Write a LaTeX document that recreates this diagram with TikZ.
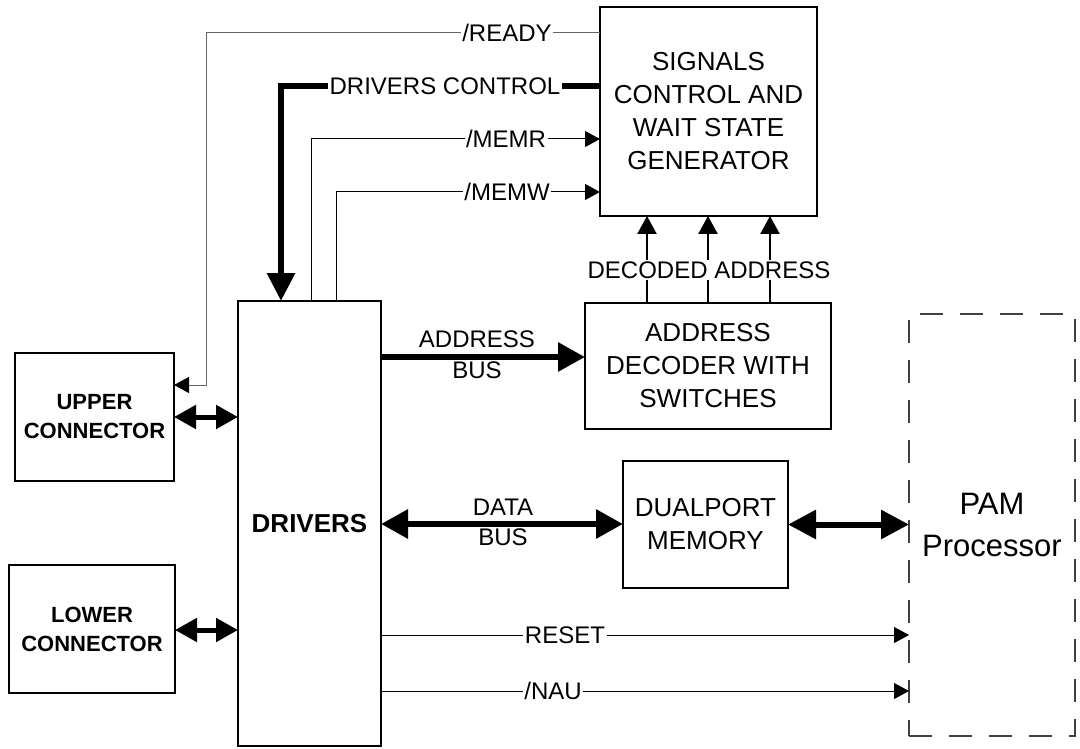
\documentclass[tikz,border=0pt]{standalone}
\usepackage{fontspec}
\setmainfont{Liberation Sans}
\usetikzlibrary{arrows.meta}
\begin{document}
\begin{tikzpicture}[x=1pt,y=-1pt,
  box/.style={draw,line width=2.5pt,align=center,inner sep=0pt,outer sep=0pt},
  btxt/.style={font=\fontsize{26}{33}\selectfont},
  ctxt/.style={font=\bfseries\fontsize{22}{29}\selectfont},
  lbl/.style={fill=white,inner sep=1.5pt,font=\fontsize{24}{28}\selectfont},
  plbl/.style={inner sep=0pt,font=\fontsize{24}{28}\selectfont},
  thinarrow/.style={line width=1pt,-{Triangle[length=15pt,width=16pt,black]}},
  bus/.style={line width=6pt},
  decline/.style={line width=2.5pt,-{Triangle[length=18pt,width=19pt]}},
  conn/.style={line width=5pt,{Triangle[length=22pt,width=23pt]}-{Triangle[length=22pt,width=23pt]}}
]
\useasboundingbox (0,0) rectangle (1080,749);
\fill[white] (0,0) rectangle (1080,749);

% boxes
\node[box,btxt,minimum width=217pt,minimum height=209pt] (sig) at (708.5,111.5) {SIGNALS\\CONTROL AND\\WAIT STATE\\GENERATOR};
\node[box,line width=2pt,minimum width=143pt,minimum height=445pt,font=\bfseries\fontsize{26}{30}\selectfont] (drv) at (309.5,523.5) {DRIVERS};
\node[box,btxt,minimum width=246pt,minimum height=126pt] (dec) at (708,366) {ADDRESS\\DECODER WITH\\SWITCHES};
\node[box,btxt,minimum width=165pt,minimum height=127pt] (mem) at (705.5,524.5) {DUALPORT\\MEMORY};
\node[box,ctxt,minimum width=159pt,minimum height=128pt] (up) at (94.5,417) {UPPER\\CONNECTOR};
\node[box,ctxt,minimum width=166pt,minimum height=128pt] (lo) at (92,629) {LOWER\\CONNECTOR};
\node[draw=black!75,line width=1.2pt,dash pattern=on 23pt off 17pt,align=center,inner sep=0pt,outer sep=0pt,
      minimum width=166pt,minimum height=422pt,font=\fontsize{31}{42}\selectfont] (pam) at (992,525) {PAM\\Processor};

% /READY
\coordinate (ry1) at (206,33);
\coordinate (ry2) at (206,385);
\draw[thinarrow,draw=black!60] (ry1 -| sig.west) -- (ry1) -- (ry2) -- (ry2 -| up.east);
\node[lbl] (lready) at (507,33) {/READY};

% DRIVERS CONTROL
\coordinate (dc) at (281,86);
\draw[bus,-{Triangle[length=28pt,width=27pt]}] (dc -| sig.west) -- (dc) -- (dc |- drv.north);
\node[lbl] (ldc) at (445,86) {DRIVERS CONTROL};

% /MEMR, /MEMW
\coordinate (mr) at (311,139);
\draw[thinarrow] (mr |- drv.north) -- (mr) -- (mr -| sig.west);
\node[lbl] (lmemr) at (506,139) {/MEMR};
\coordinate (mw) at (336,192);
\draw[thinarrow] (mw |- drv.north) -- (mw) -- (mw -| sig.west);
\node[lbl] (lmemw) at (507,192) {/MEMW};

% decoded address
\coordinate (da1) at (647,270);
\coordinate (da2) at (708,270);
\coordinate (da3) at (770,270);
\draw[decline] (da1 |- dec.north) -- (da1 |- sig.south);
\draw[decline] (da2 |- dec.north) -- (da2 |- sig.south);
\draw[decline] (da3 |- dec.north) -- (da3 |- sig.south);
\node[fill=white,inner sep=1.5pt,font=\fontsize{24}{28}\selectfont] (lda) at (709,270) {DECODED ADDRESS};

% address bus
\coordinate (ab) at (480,357);
\draw[bus,-{Triangle[length=27pt,width=28pt]}] (ab -| drv.east) -- (ab -| dec.west);
\node[plbl] (laddr) at (477,339) {ADDRESS};
\node[plbl] (labus) at (477,370) {BUS};

% data bus
\coordinate (db) at (500,524);
\draw[bus,{Triangle[length=27pt,width=28pt]}-{Triangle[length=27pt,width=28pt]}] (db -| drv.east) -- (db -| mem.west);
\node[plbl] (ldata) at (503,507) {DATA};
\node[plbl] (ldbus) at (503,537) {BUS};

% memory - PAM
\draw[bus,{Triangle[length=28pt,width=28pt]}-{Triangle[length=28pt,width=28pt]}] (mem.east) -- (mem.east -| pam.west);

% connectors
\coordinate (c1) at (200,417);
\coordinate (c2) at (200,630);
\draw[conn] (c1 -| up.east) -- (c1 -| drv.west);
\draw[conn] (c2 -| lo.east) -- (c2 -| drv.west);

% RESET, /NAU
\coordinate (rs) at (600,635);
\coordinate (na) at (600,691);
\draw[thinarrow] (rs -| drv.east) -- (rs -| pam.west);
\draw[thinarrow] (na -| drv.east) -- (na -| pam.west);
\node[lbl] (lreset) at (565,635) {RESET};
\node[lbl] (lnau) at (553,691) {/NAU};
\end{tikzpicture}
\end{document}
